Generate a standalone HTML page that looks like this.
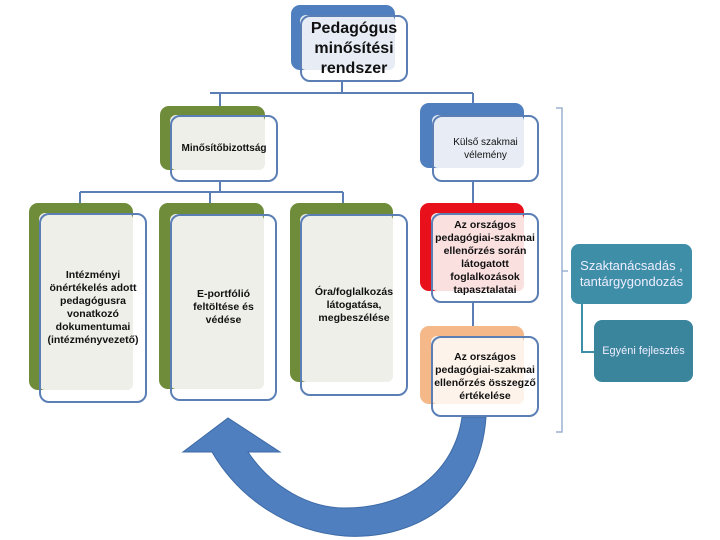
<!DOCTYPE html>
<html><head><meta charset="utf-8"><style>
body{margin:0;width:720px;height:540px;background:#fff;position:relative;overflow:hidden;font-family:"Liberation Sans",sans-serif}
.b{position:absolute;border-radius:9px}
.o{position:absolute;border-radius:6px}
.w{position:absolute;border:2px solid #5b7fb5;border-radius:10px;box-sizing:border-box;display:flex;align-items:center;justify-content:center;text-align:center;font-weight:bold;font-size:10.5px;line-height:13px;color:#111;background:transparent}
.t{position:absolute;border-radius:8px;background:#3e8ea8;color:#eef;display:flex;align-items:center;justify-content:center;text-align:center}
</style></head><body>
<svg width="720" height="540" style="position:absolute;left:0;top:0">
<g stroke="#5b7fb5" stroke-width="2" fill="none">
<path d="M342 80V93M210 93H473M220 93V106M473 93V104M220 182V192M80 192H343M80 192V204M210 192V204M343 192V204M473 182V204M473 303V326"/>
<path d="M556 108H562V432H556M562 271H568" stroke="#9cb0d0" stroke-width="1.5"/>
<path d="M582 304V352H594" stroke="#3e8ea8"/>
</g>
<path d="M486 417 C480 505 410 540 345 536 C290 532 240 500 212 452 L183 452 L228 418 L280 452 L248 452 C272 488 310 508 345 508 C410 508 455 470 462 417 Z" fill="#4f7fbf" stroke="#3d6aa6"/>
</svg>
<div class="b" style="left:291px;top:5px;width:104px;height:65px;background:#4f7fbf"></div>
<div class="o" style="left:300px;top:15px;width:95px;height:55px;background:#e8edf5"></div>
<div class="w" style="left:300px;top:15px;width:108px;height:67px;font-size:16px;line-height:20px">Pedagógus minősítési rendszer</div>
<div class="b" style="left:160px;top:106px;width:105px;height:64px;background:#6e8c3a"></div>
<div class="o" style="left:170px;top:115px;width:95px;height:55px;background:#eeefe8"></div>
<div class="w" style="left:170px;top:115px;width:108px;height:67px;font-size:10px">Minősítőbizottság</div>
<div class="b" style="left:420px;top:103px;width:104px;height:65px;background:#4f7fbf"></div>
<div class="o" style="left:432px;top:115px;width:92px;height:53px;background:#e8edf5"></div>
<div class="w" style="left:432px;top:115px;width:107px;height:67px;font-weight:normal;font-size:10px">Külső szakmai<br>vélemény</div>
<div class="b" style="left:29px;top:203px;width:104px;height:187px;background:#6e8c3a"></div>
<div class="o" style="left:39px;top:213px;width:94px;height:177px;background:#eeefe8"></div>
<div class="w" style="left:39px;top:213px;width:108px;height:190px">Intézményi önértékelés adott pedagógusra vonatkozó dokumentumai (intézményvezető)</div>
<div class="b" style="left:159px;top:203px;width:105px;height:186px;background:#6e8c3a"></div>
<div class="o" style="left:170px;top:214px;width:94px;height:175px;background:#eeefe8"></div>
<div class="w" style="left:170px;top:214px;width:107px;height:187px">E-portfólió<br>feltöltése és<br>védése</div>
<div class="b" style="left:290px;top:203px;width:103px;height:179px;background:#6e8c3a"></div>
<div class="o" style="left:300px;top:214px;width:93px;height:168px;background:#eeefe8"></div>
<div class="w" style="left:300px;top:214px;width:108px;height:182px">Óra/foglalkozás látogatása, megbeszélése</div>
<div class="b" style="left:420px;top:203px;width:104px;height:88px;background:#e8101a"></div>
<div class="o" style="left:431px;top:213px;width:93px;height:78px;background:#fbe0e0"></div>
<div class="w" style="left:431px;top:213px;width:108px;height:90px">Az országos pedagógiai-szakmai ellenőrzés során látogatott foglalkozások tapasztalatai</div>
<div class="b" style="left:420px;top:326px;width:104px;height:78px;background:#f5b989"></div>
<div class="o" style="left:431px;top:336px;width:93px;height:68px;background:#fdf3ea"></div>
<div class="w" style="left:431px;top:336px;width:108px;height:81px">Az országos pedagógiai-szakmai ellenőrzés összegző értékelése</div>
<div class="t" style="left:571px;top:244px;width:121px;height:60px;font-size:13px;line-height:16px">Szaktanácsadás ,<br>tantárgygondozás</div>
<div class="t" style="left:594px;top:320px;width:99px;height:62px;font-size:11px;background:#3a849c">Egyéni fejlesztés</div>
</body></html>
